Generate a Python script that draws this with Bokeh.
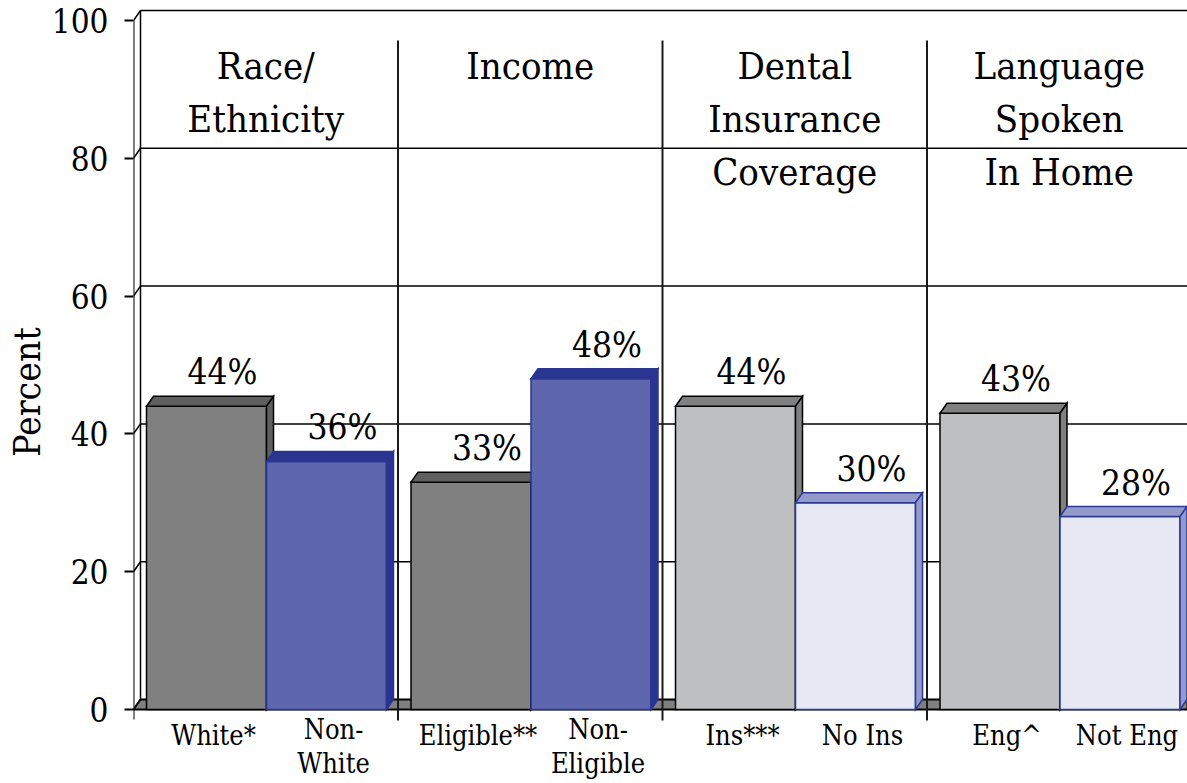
import numpy as np
from bokeh.plotting import figure
from bokeh.models import Range1d, FixedTicker
from bokeh.core.properties import value
from bokeh.embed import file_html
from bokeh.resources import INLINE

# ---- data -------------------------------------------------------------
group_headers = [
    ["Race/", "Ethnicity"],
    ["Income"],
    ["Dental", "Insurance", "Coverage"],
    ["Language", "Spoken", "In Home"],
]
bar_names = [
    ["White*"], ["Non-", "White"],
    ["Eligible**"], ["Non-", "Eligible"],
    ["Ins***"], ["No Ins"],
    ["Eng^"], ["Not Eng"],
]
percents = [44, 36, 33, 48, 44, 30, 43, 28]
y_ticks = [0, 20, 40, 60, 80, 100]

# ---- styling ----------------------------------------------------------
# (front fill, top/side fill, outline) for reference bar / comparison bar
dark_pair = [("#808080", "#5f5f5f", "#000000"), ("#5e67ae", "#2a3591", "#2a3591")]
light_pair = [("#bebfc1", "#808080", "#000000"), ("#e6e9f4", "#949bcb", "#2b3895")]
FONT = "'DejaVu Serif Condensed', 'DejaVu Serif', serif"

# ---- layout (pixels) --------------------------------------------------
W, H = 1187, 783
LEFT = 133            # x pixel of the value axis
BASE = 709            # y pixel of value 0
PX_PER_PCT = 6.89     # vertical pixels per percent
PX_PER_CAT = 264.5    # horizontal pixels per category
DEPTH_X, DEPTH_Y = 7, 10   # 3-D depth offset in pixels
TEXT_SHIFT = 12       # baseline correction for the text glyphs


def ypx(py):
    """Convert a y pixel position (text baseline) to percent units."""
    return (BASE - py) / PX_PER_PCT


x_end = (W - LEFT) / PX_PER_CAT
dx = DEPTH_X / PX_PER_CAT
dy = DEPTH_Y / PX_PER_PCT
bar_start = 13 / PX_PER_CAT
bar_w = 120 / PX_PER_CAT

p = figure(
    width=W, height=H,
    x_range=Range1d(0, x_end), y_range=Range1d(ypx(H), ypx(0)),
    output_backend="svg", toolbar_location=None,
    x_axis_location=None, y_axis_location="left",
    min_border_left=LEFT, min_border_right=0,
    min_border_top=0, min_border_bottom=0,
    outline_line_color=None, background_fill_color="white",
)
p.xgrid.visible = False
p.ygrid.visible = False

ax = p.yaxis[0]
ax.ticker = FixedTicker(ticks=y_ticks)
ax.axis_line_color = None
ax.major_tick_out = 9
ax.major_tick_in = 0
ax.major_tick_line_width = 2
ax.major_tick_line_color = "black"
ax.minor_tick_line_color = None
ax.major_label_standoff = 16
ax.major_label_text_font = FONT
ax.major_label_text_font_size = "33px"
ax.major_label_text_color = "black"
ax.axis_label = "Percent"
ax.axis_label_standoff = 0
ax.axis_label_text_font = FONT
ax.axis_label_text_font_size = "37px"
ax.axis_label_text_font_style = "normal"
ax.axis_label_text_color = "black"

# ---- back wall: gridlines, top edge, left edge and depth connectors ----
wall_levels = [v for v in y_ticks if v > 0]
p.segment(x0=[dx] * len(wall_levels), y0=[v + dy for v in wall_levels],
          x1=[x_end] * len(wall_levels), y1=[v + dy for v in wall_levels],
          line_color="black", line_width=1.5)
p.segment(x0=[dx], y0=[dy], x1=[dx], y1=[100 + dy], line_color="black", line_width=1.5)
p.segment(x0=[0] * len(y_ticks), y0=y_ticks,
          x1=[dx] * len(y_ticks), y1=[v + dy for v in y_ticks],
          line_color="black", line_width=1.5)

# ---- floor --------------------------------------------------------------
p.patch(x=[0, x_end, x_end, dx], y=[0, 0, dy, dy],
        fill_color="#808080", line_color="black", line_width=2)

# ---- bars as front / top / side faces ------------------------------------
xs, ys, fills, lines = [], [], [], []
centers, tops = [], []
for k, v in enumerate(percents):
    g, j = divmod(k, 2)
    front, shade, edge = (dark_pair if g < 2 else light_pair)[j]
    x0 = g + bar_start + j * bar_w
    x1 = x0 + bar_w
    # front face
    xs.append([x0, x1, x1, x0]); ys.append([0, 0, v, v])
    fills.append(front); lines.append(edge)
    # top face
    xs.append([x0, x1, x1 + dx, x0 + dx]); ys.append([v, v, v + dy, v + dy])
    fills.append(shade); lines.append(edge)
    # side face
    xs.append([x1, x1 + dx, x1 + dx, x1]); ys.append([0, dy, v + dy, v])
    fills.append(shade); lines.append(edge)
    centers.append((x0 + x1) / 2 + dx)
    tops.append(v + dy)

p.patches(xs=xs, ys=ys, fill_color=fills, line_color=lines, line_width=1.5,
          line_join="miter")

# ---- category dividers and value axis line ------------------------------
div_x = list(range(1, len(group_headers)))
p.segment(x0=div_x, y0=[ypx(40)] * len(div_x), x1=div_x, y1=[ypx(720)] * len(div_x),
          line_color="#1a1a1a", line_width=2)
p.segment(x0=[0], y0=[ypx(719)], x1=[0], y1=[100], line_color="black", line_width=2)

# ---- value labels -------------------------------------------------------
p.text(x=[c + 9 / PX_PER_CAT for c in centers],
       y=[t + (12 + TEXT_SHIFT) / PX_PER_PCT for t in tops],
       text=[f"{v}%" for v in percents],
       text_font=value(FONT), text_font_size="35px", text_color="black",
       text_align="center", text_baseline="alphabetic")

# ---- group headers on the back wall ---------------------------------------
hx, hy, ht = [], [], []
for g, lines_ in enumerate(group_headers):
    for r, t in enumerate(lines_):
        hx.append(g + 0.5)
        hy.append(ypx(77 + 53 * r - TEXT_SHIFT))
        ht.append(t)
p.text(x=hx, y=hy, text=ht, text_font=value(FONT), text_font_size="38px",
       text_color="black", text_align="center", text_baseline="alphabetic")

# ---- bar names under the axis ---------------------------------------------
nx, ny, nt = [], [], []
for c, lines_ in zip(centers, bar_names):
    if len(lines_) == 1:
        nx.append(c); ny.append(ypx(747 - TEXT_SHIFT)); nt.append(lines_[0])
    else:
        for r, t in enumerate(lines_):
            nx.append(c); ny.append(ypx(741 + 34 * r - TEXT_SHIFT)); nt.append(t)
p.text(x=nx, y=ny, text=nt, text_font=value(FONT), text_font_size="27px",
       text_color="black", text_align="center", text_baseline="alphabetic")

open("out.html", "w").write(file_html(p, INLINE))
